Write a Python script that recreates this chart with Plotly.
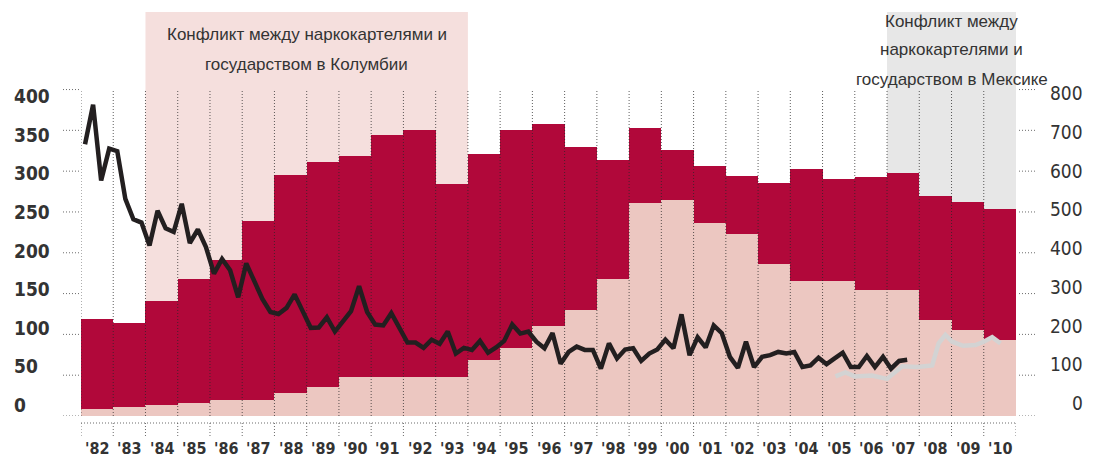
import plotly.graph_objects as go

# ---------------- data ----------------
years = list(range(1982, 2011))
year_labels = ["'" + str(y)[2:] for y in years]

# stacked bars (left axis)
bar_lower = [9, 10.5, 13, 16.5, 20, 19, 28, 36, 47.5, 47.5, 47.5, 47.5, 69, 83, 110,
             130, 167.5, 261, 265, 236, 222.5, 186, 165, 165, 154, 154, 118, 105, 93]
bar_upper = [110, 103.5, 128, 151, 171, 220, 267, 275, 271.5, 296.5, 302.5, 236.5, 252,
             267, 247.5, 200, 146.5, 91.5, 61, 70, 71.5, 100, 137.5, 125, 138.5, 143.5,
             152, 157.5, 161]

# quarterly black line (right axis), 1982 Q1 .. 2007 Q3
black_start_year = 1982
black_values = [666, 763, 577, 655, 649, 532, 482, 474, 418, 503, 460, 451, 520, 424, 457,
                414, 349, 385, 357, 291, 374, 332, 287, 255, 250, 265, 298, 257, 216, 217,
                242, 207, 232, 257, 318, 255, 224, 222, 252, 218, 180, 180, 167, 187, 177,
                207, 153, 167, 162, 184, 155, 168, 184, 224, 202, 207, 182, 166, 203, 128,
                157, 170, 162, 162, 116, 178, 141, 163, 166, 135, 153, 163, 187, 166, 249,
                149, 193, 168, 222, 203, 145, 118, 182, 120, 145, 149, 157, 153, 157, 120,
                124, 143, 127, 141, 155, 120, 120, 147, 120, 145, 116, 135, 138]

# grey line (right axis)
grey_x = [2005.40, 2005.71, 2006.0, 2006.53, 2007.0, 2007.47, 2007.93, 2008.40, 2008.60,
          2008.81, 2009.02, 2009.36, 2009.74, 2010.0, 2010.26, 2010.52]
grey_values = [97, 107, 97, 99, 91, 122, 120, 124, 178, 199, 182, 172, 174, 182, 193, 178]

left_ticks = [0, 50, 100, 150, 200, 250, 300, 350, 400]
right_ticks = [0, 100, 200, 300, 400, 500, 600, 700, 800]

colombia_period = (1984, 1994)
colombia_text = ["Конфликт между наркокартелями и", "государством в Колумбии"]
mexico_period = (2007, 2011)
mexico_text = ["Конфликт между", "наркокартелями и", "государством в Мексике"]

# ---------------- styling ----------------
OFF = 8                       # default body margin of the page
W, H = 1093 - OFF, 459 - OFF
ML, MR, MT, MB = 73, 77, 4, 43
PW, PH = W - ML - MR, H - MT - MB
LEFT_MAX = 495
C_DARK = "#b1083a"
C_LIGHT = "#ecc7c1"
C_BAND_PINK = "#f5dfdd"
C_BAND_GREY = "#e7e7e7"
TXT = "#333333"
LABEL_FONT = "Liberation Sans Narrow, Arial Narrow, DejaVu Sans Condensed, sans-serif"
TEXT_FONT = "Liberation Sans, Arial, sans-serif"


def py(px):
    """page pixel y -> paper y"""
    return (OFF + H - MB - px) / PH


def px_x(px):
    """page pixel x -> paper x"""
    return (px - OFF - ML) / PW


bar_x = [y + 0.5 for y in years]
black_x = [black_start_year + (i + 0.5) / 4 for i in range(len(black_values))]

fig = go.Figure()
fig.add_trace(go.Bar(x=bar_x, y=bar_lower, width=1, marker=dict(color=C_LIGHT, line_width=0),
                     yaxis="y", hoverinfo="skip"))
fig.add_trace(go.Bar(x=bar_x, y=bar_upper, width=1, marker=dict(color=C_DARK, line_width=0),
                     yaxis="y", hoverinfo="skip"))

# dotted vertical separators at year boundaries
vx, vy = [], []
for y in years:
    vx += [y, y, None]
    vy += [0, left_ticks[-1], None]
fig.add_trace(go.Scatter(x=vx, y=vy, mode="lines", yaxis="y",
                         line=dict(color="rgba(40,40,40,0.75)", width=1, dash="1px,2px"),
                         hoverinfo="skip"))

fig.add_trace(go.Scatter(x=grey_x, y=grey_values, mode="lines", yaxis="y2",
                         line=dict(color="#d3d3d3", width=4.5), hoverinfo="skip"))
fig.add_trace(go.Scatter(x=black_x, y=black_values, mode="lines", yaxis="y2",
                         line=dict(color="#231f20", width=4.5), hoverinfo="skip"))

shapes = []
shapes.append(dict(type="rect", xref="x", yref="paper", x0=colombia_period[0], x1=colombia_period[1],
                   y0=0, y1=1, fillcolor=C_BAND_PINK, line_width=0, layer="below"))
shapes.append(dict(type="rect", xref="x", yref="paper", x0=mexico_period[0], x1=mexico_period[1],
                   y0=0, y1=1, fillcolor=C_BAND_GREY, line_width=0, layer="below"))
dot = dict(color="rgba(70,70,70,0.8)", width=1, dash="1px,2px")
for t in left_ticks:
    shapes.append(dict(type="line", xref="paper", yref="y", x0=px_x(63), x1=0, y0=t, y1=t,
                       line=dot, layer="above"))
for t in right_ticks:
    shapes.append(dict(type="line", xref="paper", yref="y2", x0=px_x(1019), x1=px_x(1036),
                       y0=t, y1=t, line=dot, layer="above"))
# lower dotted axis
shapes.append(dict(type="line", xref="x", yref="paper", x0=years[0], x1=years[-1] + 1,
                   y0=py(423), y1=py(423), line=dot))
for y in years + [years[-1] + 1]:
    shapes.append(dict(type="line", xref="x", yref="paper", x0=y, x1=y,
                       y0=py(423), y1=py(436), line=dot))

annotations = []
# period labels
for i, line in enumerate(colombia_text):
    annotations.append(dict(x=sum(colombia_period) / 2, xref="x", y=py(34 + 30 * i), yref="paper",
                            text=line, showarrow=False, xanchor="center", yanchor="middle",
                            font=dict(family=TEXT_FONT, size=17, color=TXT)))
for i, line in enumerate(mexico_text):
    annotations.append(dict(x=sum(mexico_period) / 2, xref="x", y=py(21 + 29 * i), yref="paper",
                            text=line, showarrow=False, xanchor="center", yanchor="middle",
                            font=dict(family=TEXT_FONT, size=17, color=TXT)))
# x labels
for x, lab in zip(bar_x, year_labels):
    annotations.append(dict(x=x, xref="x", y=py(448.5), yref="paper", text=lab,
                            showarrow=False, xanchor="center", yanchor="middle",
                            font=dict(family=LABEL_FONT, size=16, color=TXT, weight="bold")))
# axis labels (left: left-aligned, right: right-aligned)
for t in left_ticks:
    ypx = 405 - t * (309 / left_ticks[-1])
    annotations.append(dict(x=px_x(12), xref="paper", y=py(ypx), yref="paper", text=str(t),
                            showarrow=False, xanchor="left", yanchor="middle",
                            font=dict(family=LABEL_FONT, size=19, color=TXT, weight="bold")))
for t in right_ticks:
    ypx = 403 - t * (310 / right_ticks[-1])
    annotations.append(dict(x=px_x(1085), xref="paper", y=py(ypx), yref="paper", text=str(t),
                            showarrow=False, xanchor="right", yanchor="middle",
                            font=dict(family=LABEL_FONT, size=19, color=TXT)))

fig.update_layout(
    width=W, height=H,
    margin=dict(l=ML, r=MR, t=MT, b=MB, autoexpand=False),
    paper_bgcolor="white", plot_bgcolor="white",
    barmode="stack", bargap=0, showlegend=False,
    xaxis=dict(range=[years[0], years[-1] + 1], showticklabels=False, automargin=False,
               showgrid=False, zeroline=False, showline=False, ticks=""),
    yaxis=dict(range=[0, LEFT_MAX], showgrid=False, zeroline=False, showticklabels=False,
               automargin=False),
    yaxis2=dict(range=[0, 2 * LEFT_MAX], overlaying="y", side="right", showgrid=False,
                zeroline=False, showticklabels=False, automargin=False),
    shapes=shapes, annotations=annotations,
)

fig.write_html("out.html")
